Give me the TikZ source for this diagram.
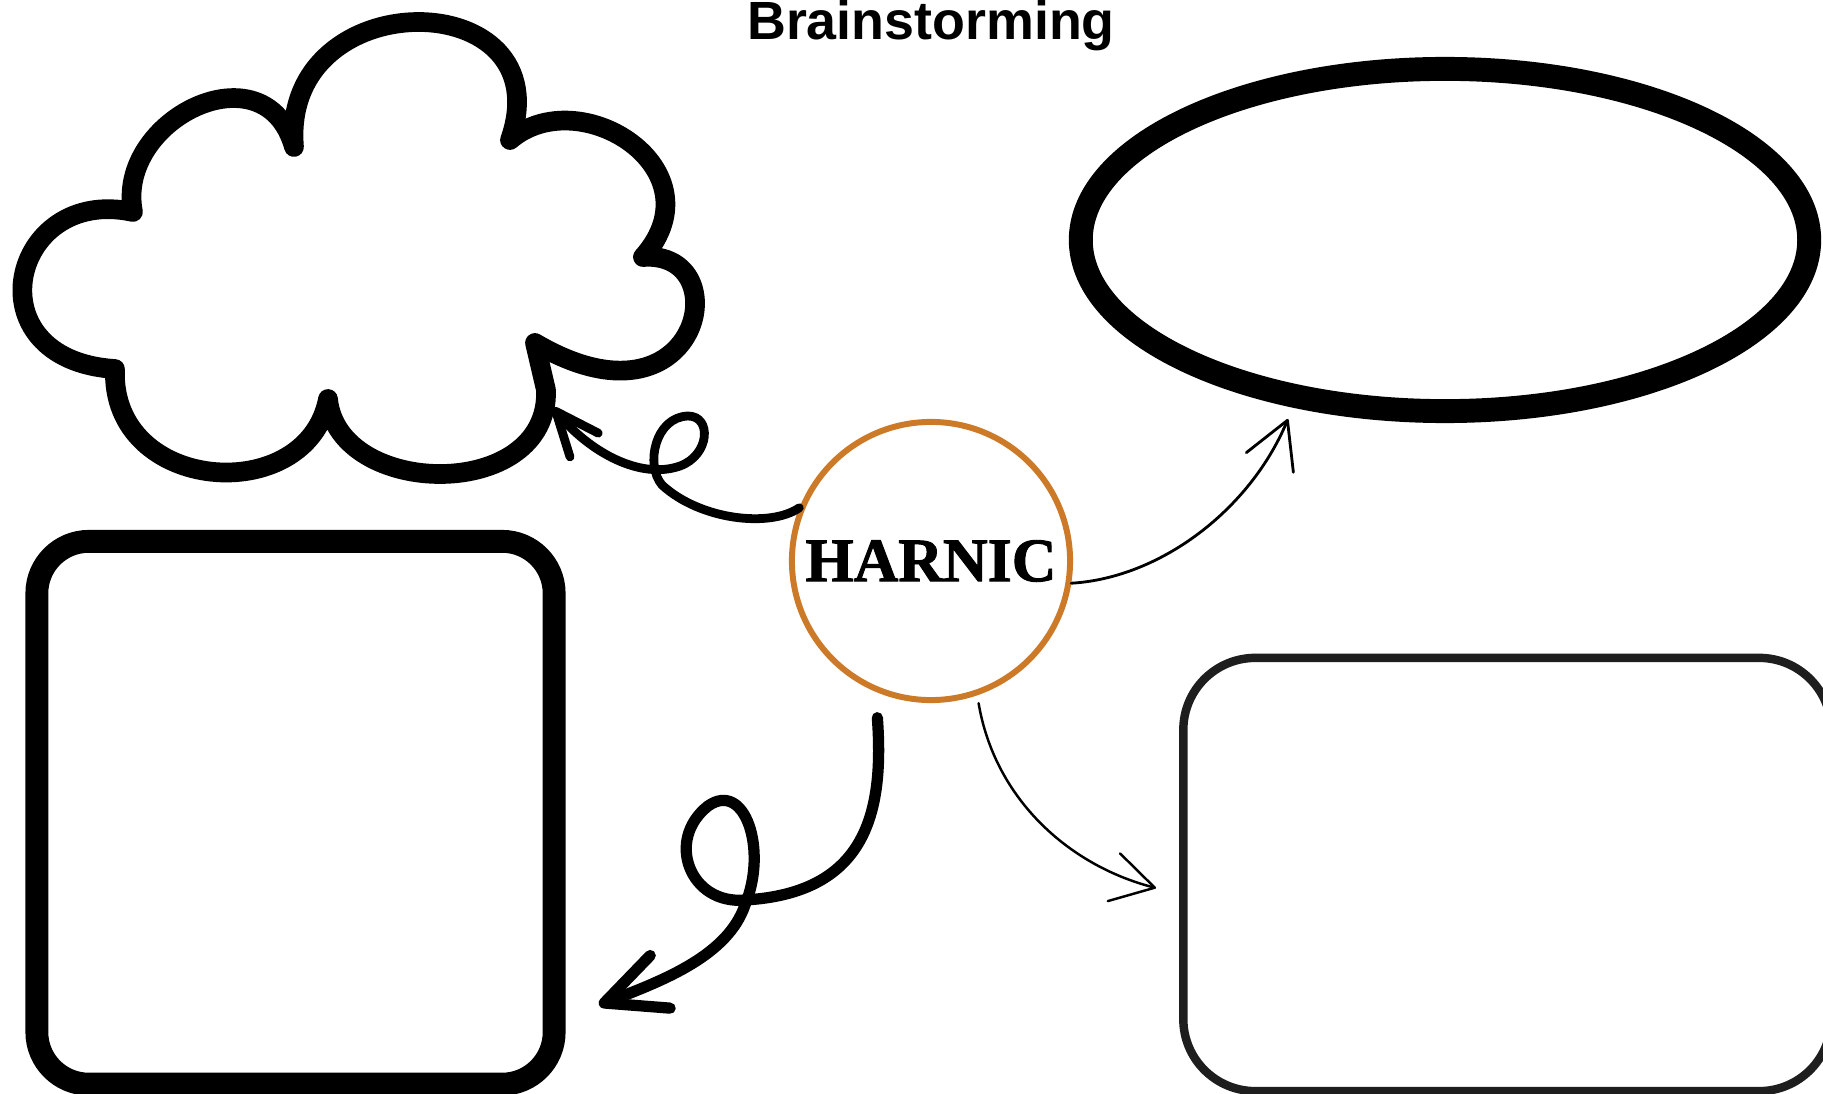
\documentclass[tikz,border=0pt]{standalone}
\usepackage{fontspec}
\newfontfamily\headfont{Liberation Sans}
\newfontfamily\hubfont{Liberation Serif}[BoldFeatures={FakeBold=1.5}]
\usetikzlibrary{arrows.meta,shapes.geometric}
\definecolor{hubring}{RGB}{204,122,40}
\definecolor{boxgray}{RGB}{30,30,30}
\tikzset{ink/.style={draw=black, line cap=round, line join=round},
  swirl/.style={ink, line width=2.5pt, -{Straight Barb[length=12.5pt, width=10.5pt, round]}},
  curl/.style={ink, line width=3.2pt, -{Straight Barb[length=17pt, width=16pt, round]}},
  thin/.style={ink, line width=0.8pt, -{Straight Barb[length=13pt, width=14.5pt, round]}},
  hub/.style={circle, draw=hubring, line width=1.7pt, minimum size=2.78cm, inner sep=0pt,
    font={\hubfont\bfseries\fontsize{17.6pt}{20pt}\selectfont}},
  oval/.style={ellipse, draw, line width=6.8pt, minimum width=7.28cm, minimum height=3.42cm, inner sep=0pt},
  panel/.style={draw, rectangle, inner sep=0pt}}

\begin{document}
\begin{tikzpicture}[x=0.01cm, y=-0.01cm]
  \useasboundingbox (0,0) rectangle (1823,1094);
  \fill[white] (0,0) rectangle (1823,1094);
  \clip (0,0) rectangle (1823,1094);
  % title
  \node[font={\headfont\bfseries\fontsize{15.3pt}{18pt}\selectfont}, anchor=base, inner sep=0pt] (title) at (931,40) {Brainstorming};
  % centre topic
  \node[hub] (hub) at (931,561) {HARNIC};
  % idea shapes
  \node[oval] (oval) at (1445,240) {};
  \node[panel, line width=6.5pt, rounded corners=0.52cm, minimum width=5.17cm, minimum height=5.425cm] (notes) at (295.5,812.75) {};
  \node[panel, draw=boxgray, line width=2.4pt, rounded corners=0.72cm, minimum width=6.475cm, minimum height=4.33cm] (facts) at (1507.25,874.5) {};
  \draw[ink, line width=5.6pt] (133,212)
    .. controls (115,120) and (265,45) .. (294,147)
    .. controls (280,-20) and (565,-17) .. (510,140)
    .. controls (580,80) and (720,170) .. (643,257)
    .. controls (740,250) and (700,440) .. (535,343)
    -- (546,390)
    .. controls (550,502) and (338,499) .. (328,399)
    .. controls (307,508) and (110,494) .. (115,369)
    .. controls (-30,360) and (10,185) .. (133,212) -- cycle;
  % arrow ends
  \coordinate (cloudtip) at (553,408);
  \coordinate (ovaltip) at (1288,419);
  \coordinate (notestip) at (599,1005);
  \coordinate (factstip) at (1156,888);
  % connectors
  \draw[swirl] (hub.158) .. controls (770,528) and (700,520) .. (662,485)
    .. controls (645,465) and (655,417) .. (688,416)
    .. controls (712,416) and (710,455) .. (680,466)
    .. controls (640,480) and (590,452) .. (cloudtip);
  \draw[thin] (hub.-9) .. controls (1160,578) and (1250,510) .. (ovaltip);
  \draw[curl, shorten <=0.26cm] (hub.-113) .. controls (884,810) and (868,893) .. (745,900)
    .. controls (690,905) and (665,840) .. (708,806)
    .. controls (745,780) and (768,850) .. (745,905)
    .. controls (728,955) and (665,980) .. (notestip);
  \draw[thin, line width=0.7pt, shorten <=0.08cm, -{Straight Barb[length=12pt, width=14pt, round]}] (hub.-71) .. controls (995,800) and (1070,866) .. (factstip);
\end{tikzpicture}
\end{document}
